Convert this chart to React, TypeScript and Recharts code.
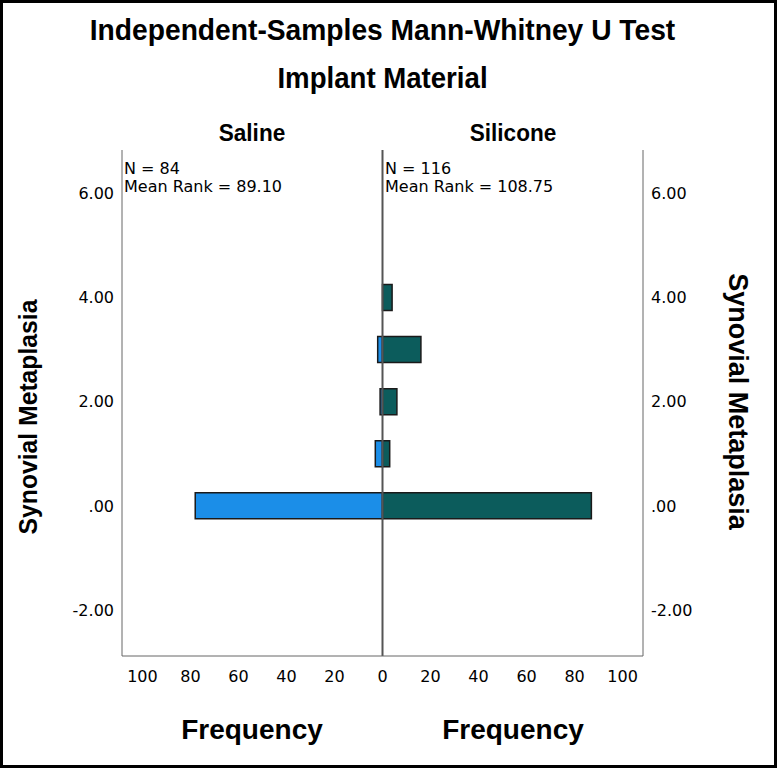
import React from "react";
import {
  Bar,
  ComposedChart,
  ReferenceLine,
  XAxis,
  YAxis,
} from "recharts";

// Synovial Metaplasia score (y) and frequency per group
const scores = [0, 1, 2, 3, 4];
const salineCounts = [78, 3, 1, 2, 0];
const siliconeCounts = [87, 3, 6, 16, 4];

const yTicks = [-2, 0, 2, 4, 6];
const xTicks = [-100, -80, -60, -40, -20, 0, 20, 40, 60, 80, 100];

const data = scores.map((s, i) => ({
  score: s,
  saline: -salineCounts[i],
  silicone: siliconeCounts[i],
}));

const bold = '"Liberation Sans", Arial, sans-serif';
const plain = '"DejaVu Sans", Verdana, sans-serif';

const fmtY = (v: number) => (v === 0 ? ".00" : v.toFixed(2));
const fmtX = (v: number) => String(Math.abs(v));

const text = (
  left: number,
  top: number,
  size: number,
  isBold: boolean,
  family: string,
  extra: React.CSSProperties = {}
): React.CSSProperties => ({
  position: "absolute",
  left,
  top,
  fontSize: size,
  fontWeight: isBold ? "bold" : "normal",
  fontFamily: family,
  whiteSpace: "nowrap",
  lineHeight: 1,
  color: "#000",
  ...extra,
});

const tickStyle = { fontSize: 16, fill: "#000", fontFamily: plain };

export default function App() {
  return (
    <div
      style={{
        position: "absolute",
        left: 0,
        top: 0,
        width: 777,
        height: 768,
        background: "#fff",
        border: "3px solid #000",
        boxSizing: "border-box",
      }}
    >
      <div style={{ position: "absolute", left: -3, top: -3 }}>
        <ComposedChart
          width={777}
          height={768}
          data={data}
          layout="vertical"
          stackOffset="sign"
          margin={{ top: 150, right: 74, bottom: 82, left: 62 }}
        >
          <XAxis
            type="number"
            domain={[-108.5, 108.5]}
            ticks={xTicks}
            tickFormatter={fmtX}
            tickLine={false}
            tickMargin={9}
            height={30}
            stroke="#666"
            tick={tickStyle}
            allowDataOverflow
          />
          <YAxis
            yAxisId="l"
            type="number"
            dataKey="score"
            reversed
            domain={[-2.88, 6.83]}
            ticks={yTicks}
            tickFormatter={fmtY}
            tickLine={false}
            width={60}
            stroke="#666"
            tick={tickStyle}
            allowDataOverflow
          />
          <YAxis
            yAxisId="r"
            orientation="right"
            type="number"
            dataKey="score"
            reversed
            domain={[-2.88, 6.83]}
            ticks={yTicks}
            tickFormatter={fmtY}
            tickLine={false}
            width={60}
            stroke="#666"
            tick={{ ...tickStyle, textAnchor: "start" }}
            allowDataOverflow
          />
          <Bar
            yAxisId="l"
            dataKey="saline"
            stackId="g"
            barSize={26}
            fill="#1b8ee8"
            stroke="#1a1a1a"
            strokeWidth={1.5}
            isAnimationActive={false}
          />
          <Bar
            yAxisId="l"
            dataKey="silicone"
            stackId="g"
            barSize={26}
            fill="#0c5c5c"
            stroke="#1a1a1a"
            strokeWidth={1.5}
            isAnimationActive={false}
          />
          <ReferenceLine yAxisId="l" x={0} stroke="#555" strokeWidth={2} />
        </ComposedChart>
      </div>

      <div
        style={text(-6, 12, 30, true, bold, {
          width: 771,
          textAlign: "center",
          transform: "scaleX(0.94)",
        })}
      >
        Independent-Samples Mann-Whitney U Test
      </div>
      <div
        style={text(-6, 60, 30, true, bold, {
          width: 771,
          textAlign: "center",
          transform: "scaleX(0.92)",
        })}
      >
        Implant Material
      </div>
      <div
        style={text(149, 118, 24, true, bold, {
          width: 200,
          textAlign: "center",
          transform: "scaleX(0.94)",
        })}
      >
        Saline
      </div>
      <div
        style={text(410, 118, 24, true, bold, {
          width: 200,
          textAlign: "center",
          transform: "scaleX(0.94)",
        })}
      >
        Silicone
      </div>

      <div style={text(121, 157, 16, false, plain, { lineHeight: "18px" })}>
        N = 84
        <br />
        Mean Rank = 89.10
      </div>
      <div style={text(382, 157, 16, false, plain, { lineHeight: "18px" })}>
        N = 116
        <br />
        Mean Rank = 108.75
      </div>

      <div
        style={text(-125, 401, 26, true, bold, {
          width: 300,
          textAlign: "center",
          transform: "rotate(-90deg) scaleX(0.95)",
        })}
      >
        Synovial Metaplasia
      </div>
      <div
        style={text(584, 385, 27, true, bold, {
          width: 300,
          textAlign: "center",
          transform: "rotate(90deg)",
        })}
      >
        Synovial Metaplasia
      </div>

      <div style={text(149, 713, 28, true, bold, { width: 200, textAlign: "center" })}>
        Frequency
      </div>
      <div style={text(410, 713, 28, true, bold, { width: 200, textAlign: "center" })}>
        Frequency
      </div>
    </div>
  );
}
